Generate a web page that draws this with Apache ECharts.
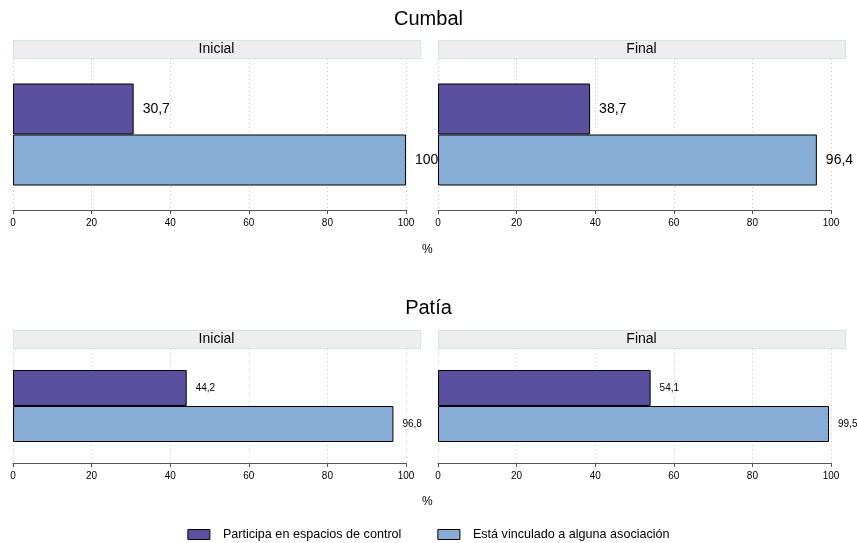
<!DOCTYPE html>
<html><head><meta charset="utf-8">
<script src="https://cdn.jsdelivr.net/npm/echarts@6/dist/echarts.min.js"></script>
<style>html,body{margin:0;padding:0;background:#fff}#c{width:857px;height:543px}</style>
</head><body><div id="c"></div>
<script>
const regions = ["Cumbal", "Patía"];
const periods = ["Inicial", "Final"];
const seriesNames = ["Participa en espacios de control", "Está vinculado a alguna asociación"];
// values [region][period]
const participa = [[30.7, 38.7], [44.2, 54.1]];
const vinculado = [[100, 96.4], [96.8, 99.5]];
const xTicks = [0, 20, 40, 60, 80, 100];

const FONT = "Liberation Sans, Arial, sans-serif";
const colors = ["#5B4FA0", "#87ACD6"];
const gridLeft = [13, 438];
const gridW = 393;
const gridTop = [59, 349];
const gridH = [151, 114];
const barW = [51, 36];
const labelSize = [14, 10];

const grids = [], xAxes = [], yAxes = [], series = [], graphics = [], titles = [];
let gi = 0;
regions.forEach((r, ri) => {
  titles.push({text: r, left: 'center', top: ri === 0 ? 4 : 293,
    textStyle: {fontFamily: FONT, fontSize: 20, fontWeight: 'normal', color: '#000'}});
  graphics.push({type: 'text', left: 422, top: ri === 0 ? 244 : 496,
    style: {text: '%', font: '12px ' + FONT, fill: '#000'}});
  periods.forEach((p, pi) => {
    grids.push({left: gridLeft[pi], top: gridTop[ri], width: gridW, height: gridH[ri]});
    graphics.push({type: 'rect', shape: {x: gridLeft[pi] + 0.5, y: gridTop[ri] - 18.5, width: 407, height: 18},
      style: {fill: '#EEEEEE', stroke: '#D3E3EC', lineWidth: 1}});
    graphics.push({type: 'text', x: gridLeft[pi] + 203.5, y: gridTop[ri] - 9.5,
      style: {text: p, font: '14px ' + FONT, fill: '#000', textAlign: 'center', textVerticalAlign: 'middle'}});
    xAxes.push({gridIndex: gi, type: 'value', min: xTicks[0], max: xTicks[xTicks.length - 1], interval: 20,
      axisLine: {show: true, lineStyle: {color: '#555', width: 1}},
      axisTick: {show: true, length: 4, lineStyle: {color: '#555'}},
      axisLabel: {fontFamily: FONT, fontSize: 10, color: '#000', margin: 8},
      splitLine: {show: true, lineStyle: {color: '#CCCCCC', type: [1, 3], width: 1}}});
    yAxes.push({gridIndex: gi, type: 'category', data: [r + ' ' + p], inverse: true,
      axisLine: {show: false}, axisTick: {show: false}, axisLabel: {show: false}});
    [participa, vinculado].forEach((arr, si) => {
      series.push({name: seriesNames[si], type: 'bar', xAxisIndex: gi, yAxisIndex: gi,
        data: [arr[ri][pi]], barWidth: barW[ri], barGap: '0%',
        itemStyle: {color: colors[si], borderColor: '#000', borderWidth: 1},
        label: {show: true, position: 'right', distance: 9, fontFamily: FONT, fontSize: labelSize[ri], color: '#000',
          formatter: (d) => String(d.value).replace('.', ',')}});
    });
    gi++;
  });
});

const chart = echarts.init(document.getElementById('c'), null, {renderer: 'canvas'});
chart.setOption({
  animation: false,
  title: titles,
  grid: grids, xAxis: xAxes, yAxis: yAxes, series: series,
  graphic: graphics,
  legend: {top: 523, left: 'center', itemWidth: 22, itemHeight: 10, itemGap: 36, icon: 'rect',
    data: seriesNames,
    textStyle: {fontFamily: FONT, fontSize: 12.6, color: '#000', padding: [0, 0, 0, 8]},
    itemStyle: {borderColor: '#000', borderWidth: 1}}
});
</script></body></html>
